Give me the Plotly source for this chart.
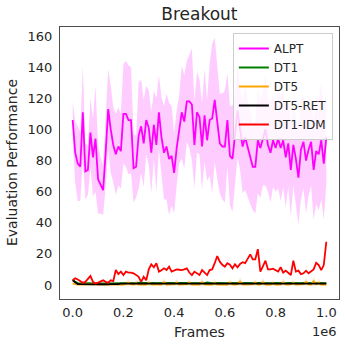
"""Breakout evaluation curves."""

import plotly.graph_objects as go

# Frames (x 1e6), 101 evaluation points
frames = [i * 10000 for i in range(101)]

alpt_mean = [
    106, 85, 78, 76, 111, 73, 74, 98, 82, 94,
    68, 64, 61, 85, 113, 100, 90, 84, 89, 86,
    110, 110, 106, 106, 75, 76, 96, 102, 91, 106,
    101, 85, 103, 90, 111, 95, 85, 89, 81, 83,
    72, 88, 100, 111, 105, 118, 118, 116, 90, 111,
    108, 89, 109, 93, 106, 107, 119, 104, 91, 89,
    89, 106, 83, 81, 95, 112, 100, 89, 95, 88,
    82, 76, 76, 93, 88, 94, 100, 90, 85, 93,
    88, 94, 88, 93, 82, 91, 74, 90, 81, 69,
    87, 92, 80, 87, 92, 74, 86, 84, 93, 78, 95,
]
alpt_std = [
    12, 20, 24, 22, 30, 18, 16, 22, 25, 34,
    22, 18, 16, 22, 26, 28, 24, 26, 25, 24,
    32, 34, 35, 34, 22, 20, 34, 30, 28, 22,
    24, 26, 22, 30, 24, 26, 30, 34, 36, 32,
    26, 24, 22, 30, 30, 26, 30, 36, 28, 26,
    24, 28, 30, 26, 36, 48, 40, 36, 32, 34,
    36, 30, 32, 34, 30, 30, 26, 30, 34, 32,
    30, 28, 30, 34, 32, 30, 36, 30, 32, 30,
    28, 32, 34, 30, 32, 28, 30, 26, 28, 30,
    32, 30, 34, 30, 28, 32, 34, 36, 38, 36, 30,
]

dt1 = [
    3.5, 2.0, 1.2, 1.0, 1.1, 1.0, 1.2, 1.0, 1.1, 1.0,
    1.0, 1.2, 1.1, 1.0, 1.0, 1.1, 1.0, 1.2, 1.3, 1.2,
    1.3, 1.2, 1.4, 1.3, 1.2, 1.3, 1.5, 1.3, 1.2, 1.3,
    1.2, 1.4, 1.3, 1.2, 1.3, 1.2, 1.3, 1.2, 1.4, 1.3,
    1.2, 1.3, 1.2, 1.3, 1.4, 1.3, 1.2, 1.3, 1.2, 1.3,
    1.2, 1.3, 1.2, 1.6, 1.3, 1.2, 1.3, 1.2, 1.3, 1.4,
    1.3, 1.2, 1.3, 1.2, 1.3, 1.2, 1.3, 1.2, 1.3, 1.2,
    1.4, 1.3, 1.2, 1.3, 1.2, 1.3, 1.2, 1.3, 1.2, 1.3,
    1.2, 1.3, 1.2, 1.3, 1.2, 1.3, 1.2, 1.3, 1.2, 1.3,
    1.2, 1.3, 1.2, 1.3, 1.2, 1.3, 1.2, 1.3, 1.2, 1.3, 1.2,
]

dt5 = [
    1.0, 0.5, 0.3, 0.2, 0.3, 0.2, 0.3, 0.2, 0.3, 0.5,
    0.3, 0.2, 0.3, 0.2, 0.3, 0.2, 0.3, 0.2, 0.3, 0.2,
    0.3, 0.8, 1.5, 0.5, 0.3, 1.2, 0.4, 0.3, 0.5, 0.3,
    1.4, 0.4, 0.3, 0.6, 0.3, 0.4, 1.8, 0.3, 0.4, 0.3,
    0.5, 1.6, 0.3, 0.4, 0.3, 0.5, 1.5, 0.4, 0.3, 0.4,
    0.3, 1.8, 0.4, 0.3, 0.5, 0.3, 1.4, 0.3, 0.4, 0.3,
    0.5, 0.3, 1.6, 0.4, 0.3, 0.5, 2.2, 0.4, 0.3, 0.4,
    0.3, 0.5, 1.5, 0.3, 0.4, 1.8, 0.3, 0.4, 0.3, 1.2,
    0.3, 0.4, 0.3, 1.7, 0.4, 0.3, 0.5, 1.4, 0.3, 0.4,
    0.3, 0.5, 1.9, 0.4, 0.3, 2.4, 0.4, 1.6, 0.3, 0.4, 0.3,
]
dt5_std = [
    0.8, 0.5, 0.4, 0.4, 0.4, 0.4, 0.4, 0.4, 0.4, 0.5,
    0.4, 0.4, 0.4, 0.4, 0.4, 0.4, 0.4, 0.4, 0.6, 0.8,
    1.2, 1.6, 2.4, 1.2, 1.0, 2.0, 1.0, 0.8, 1.2, 1.0,
    2.2, 1.0, 0.9, 1.4, 0.8, 1.0, 2.6, 0.8, 1.0, 0.9,
    1.2, 2.4, 0.9, 1.0, 0.8, 1.2, 2.2, 1.0, 0.8, 1.0,
    0.9, 2.6, 1.0, 0.8, 1.2, 0.9, 2.2, 0.8, 1.0, 0.8,
    1.2, 0.9, 2.4, 1.0, 0.8, 1.2, 3.0, 1.0, 0.9, 1.0,
    0.8, 1.2, 2.2, 0.8, 1.0, 2.6, 0.8, 1.0, 0.9, 2.0,
    0.8, 1.0, 0.9, 2.4, 1.0, 0.8, 1.2, 2.2, 0.8, 1.0,
    0.9, 1.2, 2.8, 1.0, 0.8, 3.2, 1.0, 2.4, 0.8, 1.0, 0.8,
]

dt5_ret = [
    3.0, 1.6, 0.6, 0.5, 0.4, 0.5, 0.4, 0.5, 0.4, 0.5,
    0.4, 0.5, 0.4, 0.5, 0.4, 0.5, 0.4, 0.5, 0.6, 0.9,
    0.9, 0.9, 0.9, 0.9, 0.9, 0.9, 0.9, 0.9, 0.9, 0.9,
    0.9, 0.9, 0.9, 0.9, 0.9, 0.9, 0.9, 0.9, 0.9, 0.9,
    0.9, 0.9, 0.9, 0.9, 0.9, 0.9, 0.9, 0.9, 0.9, 0.9,
    0.9, 0.9, 0.9, 0.9, 0.9, 0.9, 0.9, 0.9, 0.9, 0.9,
    0.9, 0.9, 0.9, 0.9, 0.9, 0.9, 0.9, 0.9, 0.9, 0.9,
    0.9, 0.9, 0.9, 0.9, 0.9, 0.9, 0.9, 0.9, 0.9, 0.9,
    0.9, 0.9, 0.9, 0.9, 0.9, 0.9, 0.9, 0.9, 0.9, 0.9,
    0.9, 0.9, 0.9, 0.9, 0.9, 0.9, 0.9, 0.9, 0.9, 0.9, 0.9,
]

dt1_idm = [
    3.2, 4.3, 3.5, 2.5, 1.5, 2.0, 4.0, 5.8, 2.0, 1.0,
    1.5, 2.0, 3.0, 2.0, 1.5, 3.0, 2.5, 9.6, 7.0, 8.6,
    6.4, 8.6, 8.0, 8.0, 7.5, 6.5, 5.3, 2.0, 5.3, 3.0,
    10.0, 13.3, 11.4, 14.0, 8.6, 9.5, 10.7, 9.6, 11.8, 8.6,
    9.5, 10.0, 9.8, 9.6, 10.0, 10.7, 8.0, 6.4, 8.6, 7.5,
    6.4, 9.6, 8.0, 6.4, 9.6, 10.0, 14.0, 18.6, 15.0, 13.0,
    11.8, 14.0, 13.0, 10.7, 13.3, 11.4, 13.5, 14.6, 14.0, 17.0,
    19.7, 16.5, 16.5, 23.0, 8.6, 12.0, 15.6, 10.0, 10.0, 10.5,
    9.5, 8.6, 11.4, 8.0, 9.2, 7.5, 6.4, 15.6, 8.6, 9.2,
    7.0, 7.5, 9.2, 7.5, 9.0, 10.0, 14.3, 12.8, 9.6, 12.8, 27.8,
]

y_ticks = [0, 20, 40, 60, 80, 100, 120, 140, 160]
x_ticks = [0, 200000, 400000, 600000, 800000, 1000000]
x_tick_labels = ["0.0", "0.2", "0.4", "0.6", "0.8", "1.0"]

TEXT = "#262626"
FONT = "DejaVu Sans"


def band(mean, std, color):
    upper = [m + s for m, s in zip(mean, std)]
    lower = [m - s for m, s in zip(mean, std)]
    return [
        go.Scatter(x=frames, y=upper, mode="lines", line=dict(width=0),
                   showlegend=False, hoverinfo="skip"),
        go.Scatter(x=frames, y=lower, mode="lines", line=dict(width=0),
                   fill="tonexty", fillcolor=color, showlegend=False,
                   hoverinfo="skip"),
    ]


fig = go.Figure()

for tr in band(alpt_mean, alpt_std, "rgba(255,0,255,0.2)"):
    fig.add_trace(tr)
for tr in band(dt5, dt5_std, "rgba(255,165,0,0.2)"):
    fig.add_trace(tr)

series = [
    ("ALPT", alpt_mean, "#FF00FF"),
    ("DT1", dt1, "#008000"),
    ("DT5", dt5, "#FFA500"),
    ("DT5-RET", dt5_ret, "#000000"),
    ("DT1-IDM", dt1_idm, "#FF0000"),
]
for name, ys, color in series:
    fig.add_trace(go.Scatter(x=frames, y=ys, name=name, mode="lines",
                             legendgroup=name,
                             line=dict(color=color, width=1.8)))

axis_common = dict(
    showgrid=False,
    zeroline=False,
    showline=True,
    mirror=True,
    linecolor="#4d4d4d",
    linewidth=1.2,
    ticks="outside",
    tickcolor="rgba(0,0,0,0)",
    tickfont=dict(family=FONT, size=13, color=TEXT),
    automargin=False,
)

fig.update_layout(
    width=345,
    height=345,
    margin=dict(l=60, r=6, t=27, b=46),
    plot_bgcolor="white",
    paper_bgcolor="white",
    font=dict(family=FONT, color=TEXT),
    title=dict(text="Breakout", x=0.578, xanchor="center", y=0.958,
               yanchor="middle", font=dict(family=FONT, size=17, color=TEXT)),
    xaxis=dict(
        axis_common,
        ticklen=1,
        range=[-50000, 1050000],
        tickvals=x_ticks,
        ticktext=x_tick_labels,
    ),
    yaxis=dict(
        axis_common,
        ticklen=4,
        range=[-9, 165.8],
        tickvals=y_ticks,
    ),
    legend=dict(
        x=0.978,
        y=0.978,
        xanchor="right",
        yanchor="top",
        traceorder="normal",
        bgcolor="rgba(255,255,255,0.8)",
        bordercolor="#cccccc",
        borderwidth=1,
        font=dict(family=FONT, size=12, color=TEXT),
        tracegroupgap=4,
    ),
    showlegend=True,
)

fig.add_annotation(text="Frames", xref="paper", yref="paper", x=0.5, y=-0.12,
                   xanchor="center", yanchor="middle", showarrow=False,
                   font=dict(family=FONT, size=14, color=TEXT))
fig.add_annotation(text="1e6", xref="paper", yref="paper", x=1.0, y=-0.12,
                   xanchor="right", yanchor="middle", showarrow=False,
                   font=dict(family=FONT, size=13, color=TEXT))
fig.add_annotation(text="Evaluation Performance", xref="paper", yref="paper",
                   x=-0.172, y=0.5, xanchor="center", yanchor="middle",
                   textangle=-90, showarrow=False,
                   font=dict(family=FONT, size=14, color=TEXT))

# the page's default body margin would shift the figure by 8px
fig.write_html("out.html", config={"displayModeBar": False},
               post_script="document.body.style.margin='0';")
